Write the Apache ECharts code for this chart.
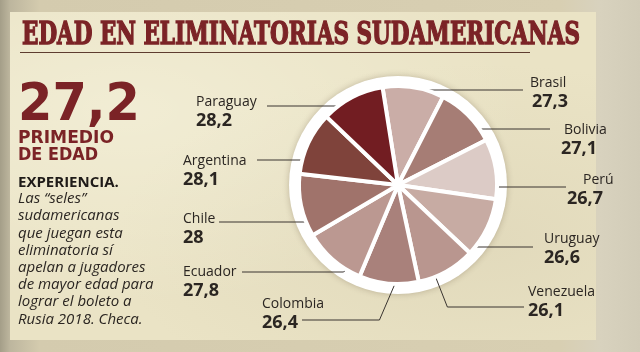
<!DOCTYPE html>
<html><head><meta charset="utf-8">
<script src="https://cdn.jsdelivr.net/npm/echarts@6/dist/echarts.min.js"></script>
<style>
html,body{margin:0;padding:0;width:640px;height:352px;overflow:hidden;}
body{background:linear-gradient(90deg,#a49e88 0px,#bdb69e 10px,#d4cbae 40px,#d8cfb2 560px,#d8d2be 600px,#d2ccb8 640px);}
#panel{position:absolute;left:10px;top:12px;width:586px;height:328px;
background:
 radial-gradient(ellipse at 20% 30%, rgba(255,255,240,0.35), rgba(255,255,240,0) 60%),
 radial-gradient(ellipse at 80% 70%, rgba(200,190,160,0.25), rgba(200,190,160,0) 55%),
 #eae3c5;}
#chart{position:absolute;left:0;top:0;width:640px;height:352px;}
</style></head>
<body><div id="panel"></div><div id="chart"></div>
<script>
// ---- data ----
const countries = ['Brasil','Bolivia','Perú','Uruguay','Venezuela','Colombia','Ecuador','Chile','Argentina','Paraguay'];
const ages = [27.3, 27.1, 26.7, 26.6, 26.1, 26.4, 27.8, 28.0, 28.1, 28.2];
const averageAge = 27.2;
const titleText = 'EDAD EN ELIMINATORIAS SUDAMERICANAS';
const subtitleLines = ['PRIMEDIO', 'DE EDAD'];
const introHead = 'EXPERIENCIA.';
const introLines = ['Las “seles”', 'sudamericanas', 'que juegan esta', 'eliminatoria sí', 'apelan a jugadores', 'de mayor edad para', 'lograr el boleto a', 'Rusia 2018. Checa.'];

// ---- style ----
const sliceColors = ['#caada7','#a67d75','#dccbc6','#c7aba3','#b9968f','#a9817b','#bb9891','#a0736b','#7f433b','#721d22'];
const CX = 398, CY = 185, R = 99, START = 99;
const labelCfg = {
  'Brasil':    {x:530, y:75,  lineY:90,  endX:523, elbowDX:7,   tipDA:-4,  tipR:0.92, ni:0,  vi:2},
  'Bolivia':   {x:561, y:122, lineY:129, endX:550, elbowDX:8,   tipDA:0,   tipR:0.68, ni:3,  vi:0},
  'Perú':      {x:567, y:172, lineY:187, endX:566, elbowDX:6,   tipDA:-16, tipR:0.65, ni:16, vi:0},
  'Uruguay':   {x:544, y:231, lineY:247, endX:533, elbowDX:5,   tipDA:-13, tipR:0.92, ni:0,  vi:0},
  'Venezuela': {x:528, y:284, lineY:307, endX:524, elbowDX:17,  tipDA:-7,  tipR:0.86, ni:0,  vi:0},
  'Colombia':  {x:262, y:296, lineY:320, endX:302, elbowDX:-18, tipDA:5,   tipR:0.94, ni:0,  vi:0},
  'Ecuador':   {x:183, y:264, lineY:272, endX:242, elbowDX:-7,  tipDA:11,  tipR:0.96, ni:0,  vi:0},
  'Chile':     {x:183, y:211, lineY:222, endX:219, elbowDX:-5,  tipDA:10,  tipR:0.89, ni:0,  vi:0},
  'Argentina': {x:183, y:153, lineY:160, endX:257, elbowDX:-8,  tipDA:10,  tipR:0.68, ni:0,  vi:0},
  'Paraguay':  {x:196, y:94,  lineY:106, endX:267, elbowDX:-4,  tipDA:10,  tipR:0.97, ni:0,  vi:0}
};

const total = ages.reduce((a,b)=>a+b,0);
const midAngles = [];
(function(){ let acc = START; ages.forEach(v=>{ const sw = v/total*360; midAngles.push(acc - sw/2); acc -= sw; }); })();
const fmt = v => String(v).replace('.', ',');

function fitScale(text, font, width){
  const ctx = document.createElement('canvas').getContext('2d');
  ctx.font = font; return width / ctx.measureText(text).width;
}

const pieData = countries.map((n,i)=>({
  name: n, value: ages[i],
  itemStyle: {color: sliceColors[i]},
  label: {rich: {
    n: {fontFamily:'Open Sans', fontSize:14, color:'#2b2622', lineHeight:17, padding:[0,0,0,labelCfg[n].ni]},
    v: {fontFamily:'Open Sans', fontSize:18, fontWeight:'bold', color:'#2b2622', lineHeight:19, padding:[0,0,0,labelCfg[n].vi]}
  }}
}));

const chart = echarts.init(document.getElementById('chart'), null, {renderer:'canvas'});
const titleFont = 'bold 31px "DejaVu Serif Condensed", "DejaVu Serif"';
const bigFont = 'bold 52px "DejaVu Sans"';
const subFont = 'bold 17px "DejaVu Sans"';
const bodyFont = 'italic 15px "Open Sans"';

const graphics = [
  {type:'text', x:22, y:36, scaleX: fitScale(titleText, titleFont, 558),
   style:{text:titleText, font:titleFont, fill:'#7b2326', stroke:'#7b2326', lineWidth:1.3, verticalAlign:'middle'}},
  {type:'line', shape:{x1:20, y1:52.5, x2:530, y2:52.5}, style:{stroke:'#5e3d30', lineWidth:1}},
  {type:'text', x:18, y:106, scaleX: fitScale(fmt(averageAge), bigFont, 122),
   style:{text:fmt(averageAge), font:bigFont, fill:'#7b2326', verticalAlign:'middle'}},
  {type:'text', x:18, y:139, scaleX: fitScale(subtitleLines[0], subFont, 96),
   style:{text:subtitleLines[0], font:subFont, fill:'#7b2326', verticalAlign:'middle'}},
  {type:'text', x:18, y:156, scaleX: fitScale(subtitleLines[1], subFont, 80),
   style:{text:subtitleLines[1], font:subFont, fill:'#7b2326', verticalAlign:'middle'}},
  {type:'text', x:18, y:183, style:{text:introHead, font:'bold 15px "Open Sans"', fill:'#1f1b18', verticalAlign:'middle'}}
];
introLines.forEach((t,i)=>graphics.push({type:'text', x:18, y:199 + i*17.2,
  style:{text:t, font:bodyFont, fill:'#2b2622', verticalAlign:'middle'}}));

chart.setOption({
  animation:false,
  graphic: graphics,
  series:[
    {type:'pie', silent:true, z:1, center:[CX,CY], radius:[0,109],
     label:{show:false}, labelLine:{show:false}, emphasis:{disabled:true},
     itemStyle:{color:'#ffffff', shadowBlur:6, shadowColor:'rgba(60,40,20,0.25)'},
     data:[{value:1, name:''}]},
    {type:'pie', z:2, center:[CX,CY], radius:[0,R], startAngle:START, clockwise:true,
     avoidLabelOverlap:false, emphasis:{disabled:true},
     itemStyle:{borderColor:'#ffffff', borderWidth:4},
     label:{show:true, position:'outside', formatter: p => '{n|' + p.name + '}\n{v|' + fmt(p.value) + '}'},
     labelLine:{show:true, length:10, length2:10, smooth:false, lineStyle:{color:'#3a3430', width:1}},
     labelLayout: function(p){
       const name = countries[p.dataIndex];
       const c = labelCfg[name];
       const a = (midAngles[p.dataIndex] + c.tipDA) * Math.PI / 180;
       const tx = CX + R*c.tipR*Math.cos(a), ty = CY - R*c.tipR*Math.sin(a);
       return {x:c.x, y:c.y, align:'left', verticalAlign:'top',
         labelLinePoints:[[tx,ty],[tx + c.elbowDX, c.lineY],[c.endX, c.lineY]]};
     },
     data: pieData}
  ]
});
</script></body></html>
